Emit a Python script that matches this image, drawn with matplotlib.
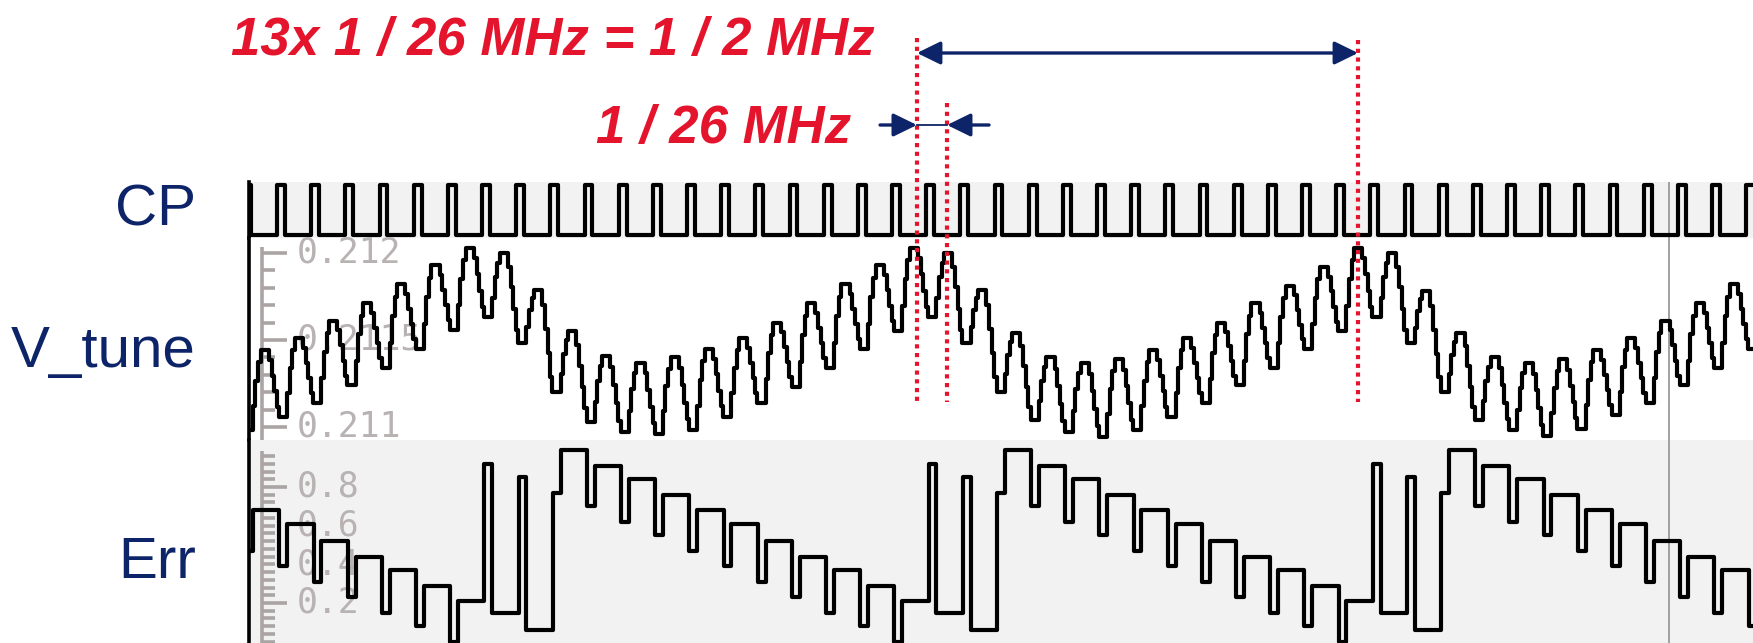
import numpy as np
import matplotlib.pyplot as plt
from matplotlib.transforms import blended_transform_factory

# --- data: time axis in clock cycles of the 26 MHz reference (k = -1 .. 43) ---
cycles = list(range(-1, 44))
cp_high = 0.23  # part of a cycle where CP is high

# V_tune: trough and peak level of each cycle (V)
vt_trough = [0.21098, 0.21106, 0.21114, 0.21124, 0.21134, 0.21145, 0.21156, 0.21163, 0.21148,
             0.21120, 0.21103, 0.21097, 0.21096, 0.21098, 0.21106, 0.21114, 0.21123, 0.21134,
             0.21145, 0.21155, 0.21163, 0.21148, 0.21120, 0.21104, 0.21097, 0.21094, 0.21098,
             0.21106, 0.21114, 0.21124, 0.21134, 0.21145, 0.21155, 0.21163, 0.21148, 0.21120,
             0.21104, 0.21098, 0.21095, 0.21099, 0.21107, 0.21114, 0.21124, 0.21134, 0.21145]
vt_peak = [0.21144, 0.21151, 0.21161, 0.21171, 0.21182, 0.21193, 0.21203, 0.21200, 0.21179,
           0.21155, 0.21141, 0.21137, 0.21140, 0.21145, 0.21151, 0.21160, 0.21171, 0.21182,
           0.21193, 0.21203, 0.21200, 0.21179, 0.21154, 0.21140, 0.21137, 0.21139, 0.21144,
           0.21151, 0.21160, 0.21171, 0.21181, 0.21192, 0.21203, 0.21200, 0.21178, 0.21154,
           0.21140, 0.21137, 0.21139, 0.21144, 0.21151, 0.21161, 0.21171, 0.21182, 0.21193]
# staircase shape inside one cycle: (phase, fraction of the swing)
vt_rise = [(0.06, 0.0), (0.30, 0.30), (0.37, 0.62), (0.45, 0.85), (0.52, 1.0)]
vt_fall = [(0.76, 0.85), (0.84, 0.62), (0.92, 0.38), (0.99, 0.15)]

# Err: value while CP is high, and value held for the rest of the cycle
err_pulse = [0.47, 0.39, 0.31, 0.23, 0.15, 0.08, 0.00, 0.92, 0.85, 0.77, 0.70, 0.62, 0.55,
             0.47, 0.39, 0.31, 0.23, 0.15, 0.08, 0.00, 0.92, 0.85, 0.77, 0.70, 0.62, 0.55,
             0.47, 0.39, 0.31, 0.23, 0.15, 0.08, 0.00, 0.92, 0.85, 0.77, 0.70, 0.62, 0.55,
             0.47, 0.39, 0.31, 0.23, 0.15, 0.08]
err_hold = [0.68, 0.61, 0.52, 0.44, 0.37, 0.29, 0.21, 0.15, 0.06, 0.99, 0.91, 0.84, 0.76,
            0.68, 0.61, 0.52, 0.44, 0.37, 0.29, 0.21, 0.15, 0.06, 0.99, 0.91, 0.84, 0.76,
            0.68, 0.61, 0.52, 0.44, 0.37, 0.29, 0.21, 0.15, 0.06, 0.99, 0.91, 0.84, 0.76,
            0.68, 0.61, 0.52, 0.44, 0.37, 0.29]
err_lag = 0.07

vt_labels = ['0.212', '0.2115', '0.211']
vt_label_pos = [0.212, 0.2115, 0.211]
err_labels = ['0.8', '0.6', '0.4', '0.2']
err_label_pos = [0.8, 0.6, 0.4, 0.2]

marks = [18.73, 19.61, 31.64]   # red dotted markers (peaks)
cursor = 40.74

# --- build step traces ---
cp_t, cp_v = [], []
vt_t, vt_v = [], []
er_t, er_v = [], []
for i, k in enumerate(cycles):
    cp_t += [k, k + cp_high]
    cp_v += [1, 0]
    lo, hi = vt_trough[i], vt_peak[i]
    nxt = vt_trough[i + 1] if i + 1 < len(vt_trough) else lo
    for ph, f in vt_rise:
        vt_t.append(k + ph)
        vt_v.append(lo + f * (hi - lo))
    for ph, f in vt_fall:
        vt_t.append(k + ph)
        vt_v.append(nxt + f * (hi - nxt))
    er_t += [k + err_lag, k + err_lag + cp_high]
    er_v += [err_pulse[i], err_hold[i]]

# --- layout ---
W, H = 1753, 643
navy = '#0d2468'
red = '#e4142d'
gray_txt = '#b8b2b2'
panel_gray = '#f2f2f2'
t_left, t_right = -0.82, 43.2
trace_lw = 3.0


def box(l, t, r, b):
    return [l / W, 1 - b / H, (r - l) / W, (b - t) / H]


fig = plt.figure(figsize=(W / 100, H / 100), dpi=100)
ax_cp = fig.add_axes(box(249, 182, 1753, 238))
ax_vt = fig.add_axes(box(249, 238, 1753, 440))
ax_err = fig.add_axes(box(249, 440, 1753, 643))

for ax, bg in [(ax_cp, panel_gray), (ax_vt, 'white'), (ax_err, panel_gray)]:
    ax.set_facecolor(bg)
    ax.set_xlim(t_left, t_right)
    ax.set_xticks([])
    ax.set_yticks([])
    for s in ['top', 'right', 'bottom']:
        ax.spines[s].set_visible(False)
    ax.spines['left'].set_linewidth(2.6)
    ax.spines['left'].set_color('black')
    ax.axvline(cursor, color='#9a9a9a', lw=1.3, zorder=1)

ax_cp.set_ylim(-0.06, 1.06)
ax_vt.set_ylim(0.210925, 0.212086)
ax_err.set_ylim(-0.007, 1.043)

ax_cp.plot(cp_t, cp_v, drawstyle='steps-post', color='black', lw=trace_lw, zorder=3)
ax_vt.plot(vt_t, vt_v, drawstyle='steps-post', color='black', lw=trace_lw, zorder=3)
ax_err.plot(er_t, er_v, drawstyle='steps-post', color='black', lw=trace_lw, zorder=3)

# faded scope rulers
rx, long_x, short_x, lab_x = 0.0086, 0.0253, 0.0173, 0.0316
ruler = dict(color='#aba4a4', lw=2.6, zorder=2, solid_capstyle='butt')
tr = blended_transform_factory(ax_vt.transAxes, ax_vt.transData)
ax_vt.plot([rx, rx], [0.212034, 0.210925], transform=tr, **ruler)
for v in np.arange(0.2110, 0.21201, 0.0001):
    x2 = long_x if round(v * 1e4) % 5 == 0 else short_x
    ax_vt.plot([rx, x2], [v, v], transform=tr, **ruler)
for lab, v in zip(vt_labels, vt_label_pos):
    ax_vt.text(lab_x, v, lab, transform=tr, va='center', ha='left', fontsize=25,
               family='DejaVu Sans Mono', color=gray_txt, zorder=2)

tr = blended_transform_factory(ax_err.transAxes, ax_err.transData)
ax_err.plot([rx, rx], [0.985, -0.007], transform=tr, **ruler)
for v in np.arange(0.0, 0.97, 0.04):
    x2 = long_x if round(v * 100) in (80, 20) else short_x
    ax_err.plot([rx, x2], [v, v], transform=tr, **ruler)
for lab, v in zip(err_labels, err_label_pos):
    ax_err.text(lab_x, v, lab, transform=tr, va='center', ha='left', fontsize=25,
                family='DejaVu Sans Mono', color=gray_txt, zorder=2)

# signal names
for name, base in [('CP', 226), ('V_tune', 367), ('Err', 578)]:
    fig.text(196 / W, 1 - base / H, name, ha='right', va='baseline', fontsize=42,
             color=navy, family='Liberation Sans')

# red period markers and arrows
ft = blended_transform_factory(ax_vt.transData, fig.transFigure)
for m, top in zip(marks, [38, 103, 40]):
    ax_vt.plot([m, m], [1 - top / H, 1 - 402 / H], transform=ft, color=red, lw=3.0,
               linestyle=(0, (1, 1.1)), clip_on=False, zorder=10)

head = '-|>,head_length=0.45,head_width=0.22'
arrow = dict(mutation_scale=32, lw=2.4, color=navy, shrinkA=0, shrinkB=0)
y_long = 1 - 53 / H
ax_vt.annotate('', xy=(marks[0], y_long), xycoords=ft, xytext=(marks[2], y_long), textcoords=ft,
               arrowprops=dict(arrowstyle='<|-|>,head_length=0.45,head_width=0.22', **arrow),
               annotation_clip=False)
y_short = 1 - 125 / H
ax_vt.annotate('', xy=(marks[0], y_short), xycoords=ft, xytext=(17.65, y_short), textcoords=ft,
               arrowprops=dict(arrowstyle=head, **arrow), annotation_clip=False)
ax_vt.annotate('', xy=(marks[1], y_short), xycoords=ft, xytext=(20.84, y_short), textcoords=ft,
               arrowprops=dict(arrowstyle=head, **arrow), annotation_clip=False)
ax_vt.plot([marks[0], marks[1]], [y_short, y_short], transform=ft, color=navy, lw=1.3,
           clip_on=False, zorder=10)

fig.text(553 / W, 1 - 55 / H, '13x 1 / 26 MHz = 1 / 2 MHz', ha='center', va='baseline',
         fontsize=38, fontweight='bold', fontstyle='italic', color=red, family='Liberation Sans')
fig.text(724 / W, 1 - 143 / H, '1 / 26 MHz', ha='center', va='baseline',
         fontsize=38, fontweight='bold', fontstyle='italic', color=red, family='Liberation Sans')

fig.savefig('out.png', dpi=100)
